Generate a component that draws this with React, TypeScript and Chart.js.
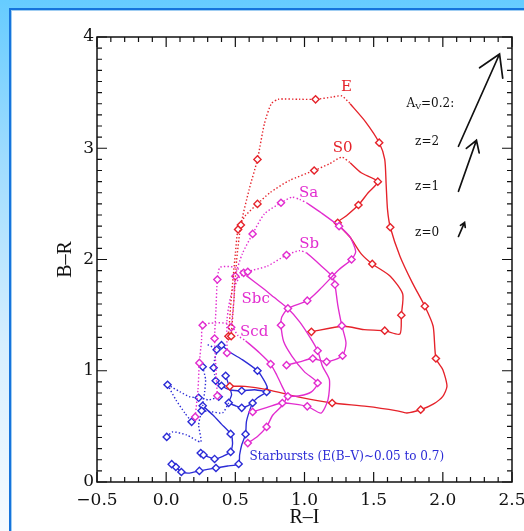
import React, { useEffect, useRef } from "react";
import { Chart, registerables } from "chart.js";

Chart.register(...registerables);

type P = [number, number, number]; // x (R-I), y (B-R), diamond marker flag

// ---------- galaxy tracks ----------
const eDotted: P[] = [
  [0.47, 1.31, 1], [0.49, 1.64, 0], [0.51, 2.0, 0], [0.54, 2.31, 1], [0.6, 2.63, 0], [0.66, 2.9, 1],
  [0.71, 3.22, 0], [0.76, 3.4, 0], [0.81, 3.44, 0], [0.965, 3.44, 0], [1.08, 3.44, 1], [1.2, 3.46, 0],
  [1.27, 3.47, 0], [1.33, 3.4, 0],
];
const eSolid: P[] = [
  [1.33, 3.4, 0], [1.44, 3.24, 0], [1.54, 3.05, 1], [1.58, 2.9, 0], [1.59, 2.68, 0], [1.6, 2.45, 0],
  [1.62, 2.29, 1], [1.69, 2.03, 0], [1.78, 1.79, 0], [1.87, 1.58, 1], [1.93, 1.4, 0], [1.95, 1.11, 1],
  [2.0, 1.01, 0], [2.03, 0.86, 0], [2.0, 0.77, 0], [1.93, 0.7, 0], [1.84, 0.65, 1], [1.74, 0.62, 0],
  [1.67, 0.64, 0], [1.45, 0.68, 0], [1.2, 0.71, 1], [0.97, 0.76, 0], [0.73, 0.83, 0], [0.57, 0.86, 0],
  [0.46, 0.86, 1],
];
const s0Dotted: P[] = [
  [0.45, 1.31, 1], [0.47, 1.64, 0], [0.5, 2.05, 0], [0.52, 2.27, 1], [0.57, 2.39, 0], [0.66, 2.5, 1],
  [0.75, 2.6, 0], [0.89, 2.71, 0], [1.07, 2.8, 1], [1.18, 2.86, 0], [1.27, 2.92, 0], [1.33, 2.87, 0],
];
const s0Solid: P[] = [
  [1.33, 2.87, 0], [1.41, 2.78, 0], [1.53, 2.7, 1], [1.46, 2.6, 0], [1.39, 2.49, 1], [1.3, 2.39, 0],
  [1.24, 2.33, 1], [1.33, 2.2, 0], [1.41, 2.05, 0], [1.49, 1.96, 1], [1.62, 1.85, 0], [1.71, 1.69, 0],
  [1.7, 1.5, 1], [1.69, 1.33, 0], [1.58, 1.36, 1], [1.43, 1.37, 0], [1.28, 1.4, 0], [1.05, 1.35, 1],
];
const saDotted: P[] = [
  [0.47, 1.39, 1], [0.49, 1.64, 0], [0.5, 1.85, 1], [0.55, 2.05, 0], [0.625, 2.23, 1], [0.71, 2.41, 0],
  [0.83, 2.51, 1], [0.91, 2.56, 0], [0.965, 2.54, 0], [1.015, 2.51, 0],
];
const saSolid: P[] = [
  [1.015, 2.51, 0], [1.12, 2.42, 0], [1.25, 2.3, 1], [1.33, 2.2, 0], [1.37, 2.07, 0], [1.34, 2.0, 1],
  [1.25, 1.91, 0], [1.11, 1.73, 0], [1.02, 1.63, 1], [0.88, 1.56, 1], [0.835, 1.48, 0], [0.83, 1.41, 1],
  [0.85, 1.26, 0], [0.91, 1.13, 0], [1.0, 0.99, 0], [1.095, 0.89, 1], [1.05, 0.81, 0], [0.965, 0.775, 0],
  [0.88, 0.77, 1],
];
const sbDotted: P[] = [
  [0.44, 1.16, 1], [0.44, 1.46, 0], [0.47, 1.685, 0], [0.53, 1.84, 0], [0.59, 1.89, 1], [0.73, 1.94, 0],
  [0.87, 2.04, 1], [0.965, 2.08, 0], [1.015, 2.06, 0],
];
const sbSolid: P[] = [
  [1.015, 2.06, 0], [1.11, 1.955, 0], [1.2, 1.85, 1], [1.22, 1.775, 1], [1.24, 1.595, 0], [1.27, 1.405, 1],
  [1.3, 1.25, 0], [1.275, 1.135, 1], [1.16, 1.08, 1], [1.06, 1.11, 1], [0.965, 1.08, 0], [0.87, 1.05, 1],
];
const sbcDotted: P[] = [
  [0.37, 0.775, 1], [0.36, 1.01, 0], [0.35, 1.29, 1], [0.36, 1.55, 0], [0.37, 1.82, 1], [0.39, 1.93, 0],
  [0.495, 1.93, 0], [0.56, 1.88, 1], [0.58, 1.855, 0],
];
const sbcSolid: P[] = [
  [0.58, 1.855, 0], [0.69, 1.75, 0], [0.78, 1.66, 0], [0.88, 1.56, 0], [0.965, 1.44, 0], [1.04, 1.3, 0],
  [1.095, 1.18, 1], [1.13, 1.04, 0], [1.18, 0.92, 0], [1.17, 0.74, 0], [1.12, 0.62, 0], [1.02, 0.68, 1],
  [0.84, 0.71, 1], [0.73, 0.67, 0], [0.625, 0.63, 1],
];
const scdDotted: P[] = [
  [0.21, 0.585, 1], [0.23, 0.83, 0], [0.24, 1.07, 1], [0.256, 1.28, 0], [0.264, 1.41, 1], [0.35, 1.43, 0],
  [0.46, 1.42, 0], [0.52, 1.315, 0], [0.574, 1.27, 0],
];
const scdSolid: P[] = [
  [0.574, 1.27, 0], [0.676, 1.16, 0], [0.755, 1.06, 1], [0.8, 0.96, 0], [0.84, 0.855, 0], [0.87, 0.77, 0],
  [0.84, 0.69, 0], [0.77, 0.6, 0], [0.726, 0.495, 1], [0.66, 0.41, 0], [0.59, 0.35, 1],
];

// ---------- starburst tracks ----------
const burstSolid1: P[] = [
  [0.4, 1.23, 1], [0.47, 1.16, 0], [0.55, 1.1, 0], [0.66, 1.0, 1], [0.7, 0.93, 0], [0.73, 0.856, 0],
  [0.726, 0.81, 1], [0.66, 0.757, 0], [0.625, 0.71, 1], [0.6, 0.63, 0], [0.58, 0.54, 0], [0.574, 0.43, 1],
  [0.546, 0.333, 0], [0.531, 0.243, 0], [0.524, 0.162, 1], [0.444, 0.144, 0], [0.36, 0.126, 1],
  [0.24, 0.1, 1], [0.17, 0.08, 0], [0.11, 0.09, 1], [0.07, 0.135, 1], [0.04, 0.16, 1],
];
const burstSolid2: P[] = [
  [0.25, 0.26, 1], [0.27, 0.243, 1], [0.35, 0.207, 1], [0.415, 0.234, 0], [0.466, 0.27, 1], [0.48, 0.351, 0],
  [0.466, 0.432, 1], [0.4, 0.52, 0], [0.336, 0.604, 0], [0.264, 0.685, 1],
];
const burstSolid3: P[] = [
  [0.43, 0.955, 1], [0.452, 0.874, 0], [0.473, 0.784, 0], [0.452, 0.712, 1], [0.502, 0.685, 0],
  [0.546, 0.667, 1], [0.589, 0.685, 0], [0.625, 0.712, 0],
];
const burstSolid4: P[] = [
  [0.358, 0.91, 1], [0.4, 0.865, 1], [0.459, 0.829, 0], [0.546, 0.82, 1], [0.639, 0.829, 0], [0.726, 0.811, 0],
];
const burstDotted1: P[] = [[0.3, 1.234, 0], [0.365, 1.189, 1], [0.35, 1.1, 0], [0.343, 1.027, 1], [0.35, 0.964, 0], [0.358, 0.91, 0]];
const burstDotted2: P[] = [[0.01, 0.874, 1], [0.1, 0.811, 0], [0.17, 0.766, 0], [0.235, 0.757, 1], [0.31, 0.739, 0], [0.38, 0.766, 1]];
const burstDotted3: P[] = [[0.01, 0.874, 0], [0.07, 0.739, 0], [0.134, 0.622, 0], [0.184, 0.541, 1]];
const burstDotted4: P[] = [[0.004, 0.405, 1], [0.047, 0.45, 0], [0.148, 0.423, 0], [0.25, 0.36, 0], [0.235, 0.514, 0], [0.256, 0.64, 1]];
const burstDotted5: P[] = [[0.264, 1.036, 1], [0.285, 0.919, 0], [0.278, 0.811, 0], [0.264, 0.685, 0]];
const burstDotted6: P[] = [[0.256, 0.64, 0], [0.329, 0.631, 0], [0.408, 0.622, 0], [0.452, 0.712, 0]];

// ---------- texts & reddening vectors ----------
const curveLabels = ["E", "S0", "Sa", "Sb", "Sbc", "Scd"];
const curveLabelX = [1.304, 1.275, 1.03, 1.033, 0.647, 0.636];
const curveLabelY = [3.55, 3.005, 2.6, 2.14, 1.64, 1.347];
const burstLabel = "Starbursts (E(B–V)~0.05 to 0.7)";
const burstLabelX = 0.603;
const burstLabelY = 0.225;
const avLabelX = 1.738;
const avLabelY = 3.396;
const arrowLabels = ["z=2", "z=1", "z=0"];
const arrowLabelX = [1.886, 1.886, 1.886];
const arrowLabelY = [3.054, 2.649, 2.243];
const arrowTailX = [2.113, 2.113, 2.113];
const arrowTailY = [3.018, 2.613, 2.207];
const arrowTipX = [2.41, 2.243, 2.157];
const arrowTipY = [3.847, 3.072, 2.333];

const xTickLabels = ["−0.5", "0.0", "0.5", "1.0", "1.5", "2.0", "2.5"];
const yTickLabels = ["0", "1", "2", "3", "4"];

const RED = "#e5222a";
const MAG = "#e22ccf";
const BLUE = "#2b2bd6";
const curveLabelColors = [RED, RED, MAG, MAG, MAG, MAG];

const tracks: { pts: P[]; color: string; dotted: boolean }[] = [
  { pts: eDotted, color: RED, dotted: true },
  { pts: s0Dotted, color: RED, dotted: true },
  { pts: saDotted, color: MAG, dotted: true },
  { pts: sbDotted, color: MAG, dotted: true },
  { pts: sbcDotted, color: MAG, dotted: true },
  { pts: scdDotted, color: MAG, dotted: true },
  { pts: burstDotted1, color: BLUE, dotted: true },
  { pts: burstDotted2, color: BLUE, dotted: true },
  { pts: burstDotted3, color: BLUE, dotted: true },
  { pts: burstDotted4, color: BLUE, dotted: true },
  { pts: burstDotted5, color: BLUE, dotted: true },
  { pts: burstDotted6, color: BLUE, dotted: true },
  { pts: saSolid, color: MAG, dotted: false },
  { pts: sbSolid, color: MAG, dotted: false },
  { pts: sbcSolid, color: MAG, dotted: false },
  { pts: scdSolid, color: MAG, dotted: false },
  { pts: eSolid, color: RED, dotted: false },
  { pts: s0Solid, color: RED, dotted: false },
  { pts: burstSolid1, color: BLUE, dotted: false },
  { pts: burstSolid2, color: BLUE, dotted: false },
  { pts: burstSolid3, color: BLUE, dotted: false },
  { pts: burstSolid4, color: BLUE, dotted: false },
];

const overlay = {
  id: "overlay",
  afterDatasetsDraw(chart: any) {
    const { ctx, chartArea: a, scales } = chart;
    const xs = scales.x;
    const ys = scales.y;
    ctx.save();
    // frame
    ctx.strokeStyle = "#111";
    ctx.lineWidth = 1.5;
    ctx.strokeRect(a.left, a.top, a.right - a.left, a.bottom - a.top);
    // inward ticks on all sides
    ctx.lineWidth = 1.2;
    ctx.beginPath();
    for (let i = 0; i <= 30; i++) {
      const px = xs.getPixelForValue(-0.5 + i * 0.1);
      const len = i % 5 === 0 ? 10 : 5;
      ctx.moveTo(px, a.bottom);
      ctx.lineTo(px, a.bottom - len);
      ctx.moveTo(px, a.top);
      ctx.lineTo(px, a.top + len);
    }
    for (let i = 0; i <= 40; i++) {
      const py = ys.getPixelForValue(i * 0.1);
      const len = i % 10 === 0 ? 10 : 5;
      ctx.moveTo(a.left, py);
      ctx.lineTo(a.left + len, py);
      ctx.moveTo(a.right, py);
      ctx.lineTo(a.right - len, py);
    }
    ctx.stroke();

    // curve labels
    ctx.textAlign = "center";
    ctx.textBaseline = "middle";
    ctx.font = '15px "DejaVu Serif"';
    curveLabels.forEach((t, i) => {
      ctx.fillStyle = curveLabelColors[i];
      ctx.fillText(t, xs.getPixelForValue(curveLabelX[i]), ys.getPixelForValue(curveLabelY[i]));
    });
    // starbursts label
    ctx.font = '12px "DejaVu Serif"';
    ctx.fillStyle = BLUE;
    ctx.textAlign = "left";
    ctx.fillText(burstLabel, xs.getPixelForValue(burstLabelX), ys.getPixelForValue(burstLabelY));

    // A_V label
    ctx.fillStyle = "#111";
    let ax = xs.getPixelForValue(avLabelX);
    const ay = ys.getPixelForValue(avLabelY);
    ctx.font = '12px "DejaVu Serif"';
    ctx.fillText("A", ax, ay);
    ax += ctx.measureText("A").width;
    ctx.font = '8px "DejaVu Serif"';
    ctx.fillText("V", ax, ay + 3);
    ax += ctx.measureText("V").width;
    ctx.font = '12px "DejaVu Serif"';
    ctx.fillText("=0.2:", ax, ay);

    // z labels
    ctx.textAlign = "center";
    arrowLabels.forEach((t, i) => {
      ctx.fillText(t, xs.getPixelForValue(arrowLabelX[i]), ys.getPixelForValue(arrowLabelY[i]));
    });

    // reddening arrows
    ctx.strokeStyle = "#111";
    ctx.lineWidth = 1.7;
    ctx.lineCap = "round";
    arrowTailX.forEach((_, i) => {
      const x0 = xs.getPixelForValue(arrowTailX[i]);
      const y0 = ys.getPixelForValue(arrowTailY[i]);
      const x1 = xs.getPixelForValue(arrowTipX[i]);
      const y1 = ys.getPixelForValue(arrowTipY[i]);
      const len = Math.hypot(x1 - x0, y1 - y0);
      const ang = Math.atan2(y0 - y1, x0 - x1);
      const h = Math.max(5, len * 0.24);
      const spread = 0.55;
      ctx.beginPath();
      ctx.moveTo(x0, y0);
      ctx.lineTo(x1, y1);
      ctx.moveTo(x1 + h * Math.cos(ang + spread), y1 + h * Math.sin(ang + spread));
      ctx.lineTo(x1, y1);
      ctx.lineTo(x1 + h * Math.cos(ang - spread), y1 + h * Math.sin(ang - spread));
      ctx.stroke();
    });
    ctx.restore();
  },
};

export default function App() {
  const ref = useRef<HTMLCanvasElement | null>(null);

  useEffect(() => {
    if (!ref.current) return;
    const datasets = tracks.map((t) => ({
      data: t.pts.map((p) => ({ x: p[0], y: p[1] })),
      showLine: true,
      borderColor: t.color,
      borderWidth: t.dotted ? 1.4 : 1.35,
      borderDash: t.dotted ? [1.4, 2.1] : [],
      tension: 0.22,
      fill: false,
      pointStyle: "rectRot",
      pointRadius: t.pts.map((p) => (p[2] ? 3.6 : 0)),
      pointHoverRadius: 0,
      pointBorderColor: t.color,
      pointBackgroundColor: "#ffffff",
      pointBorderWidth: 1.4,
    }));

    const chart = new Chart(ref.current, {
      type: "scatter",
      data: { datasets } as any,
      plugins: [overlay],
      options: {
        animation: false,
        responsive: false,
        events: [],
        layout: { padding: { left: 49, top: 37, right: 12, bottom: 0 } },
        plugins: { legend: { display: false }, tooltip: { enabled: false } },
        scales: {
          x: {
            type: "linear",
            min: -0.5,
            max: 2.5,
            grid: { display: false, drawTicks: false },
            border: { display: false },
            ticks: {
              stepSize: 0.5,
              padding: 8,
              color: "#111",
              font: { family: "DejaVu Serif", size: 17 },
              callback: (v: any) => xTickLabels[Math.round((Number(v) + 0.5) / 0.5)] ?? "",
            },
            title: {
              display: true,
              text: "R–I",
              color: "#111",
              font: { family: "Liberation Serif", size: 20 },
              padding: { top: 0, bottom: 1 },
            },
            afterFit: (s: any) => {
              s.height = 49;
              s.paddingLeft = 0;
              s.paddingRight = 0;
            },
          },
          y: {
            type: "linear",
            min: 0,
            max: 4,
            grid: { display: false, drawTicks: false },
            border: { display: false },
            ticks: {
              stepSize: 1,
              padding: 3,
              color: "#111",
              font: { family: "DejaVu Serif", size: 17 },
              callback: (v: any) => yTickLabels[Math.round(Number(v))] ?? "",
            },
            title: {
              display: true,
              text: "B–R",
              color: "#111",
              font: { family: "Liberation Serif", size: 20 },
              padding: { top: 5, bottom: 0 },
            },
            afterFit: (s: any) => {
              s.width = 48;
              s.paddingTop = 0;
              s.paddingBottom = 0;
            },
          },
        },
      } as any,
    });
    return () => chart.destroy();
  }, []);

  return (
    <div
      style={{
        position: "absolute",
        left: 0,
        top: 0,
        width: 524,
        height: 531,
        overflow: "hidden",
        background: "linear-gradient(180deg, #66ccff 0%, #9fdcff 30%, #d6efff 65%, #f6fbff 100%)",
      }}
    >
      <div
        style={{
          position: "absolute",
          left: 9,
          top: 8,
          width: 515,
          height: 523,
          boxSizing: "border-box",
          background: "#ffffff",
          borderLeft: "2px solid #1674dc",
          borderTop: "2px solid #1674dc",
          boxShadow: "inset 1px 1px 0 #9fcdf2",
        }}
      />
      <canvas ref={ref} width={524} height={531} style={{ position: "absolute", left: 0, top: 0 }} />
    </div>
  );
}
